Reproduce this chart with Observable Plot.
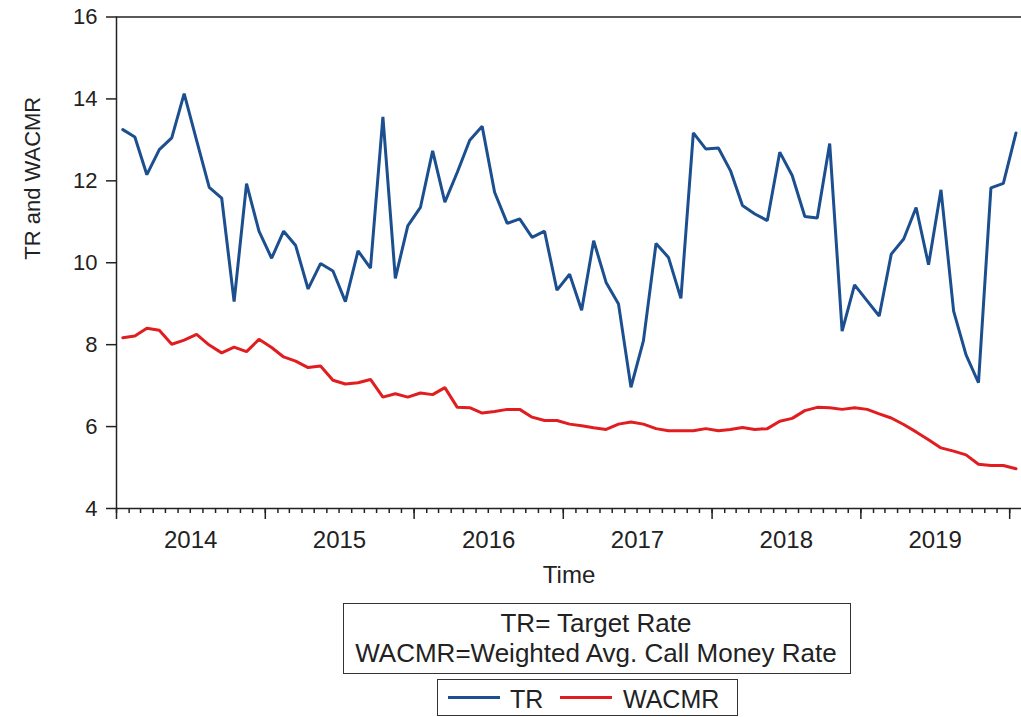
<!DOCTYPE html>
<html>
<head>
<meta charset="utf-8">
<script src="https://cdn.jsdelivr.net/npm/d3@7"></script>
<script src="https://cdn.jsdelivr.net/npm/@observablehq/plot@0.6"></script>
<style>
  body { margin: 0; background: #fff; font-family: "Liberation Sans", Arial, sans-serif; }
  #wrap { position: relative; width: 1021px; height: 717px; overflow: hidden; background: #fff; }
  #chart { position: absolute; left: 0; top: 0; }
  .box { position: absolute; border: 1.5px solid #333; box-sizing: border-box; color: #222; background: #fff; }
  #note { left: 343px; top: 603px; width: 508px; height: 71px; font-size: 26px; line-height: 30px; text-align: center; padding-top: 4px; }
  #note div { position: relative; left: -1px; }
  #legend { left: 437px; top: 679px; width: 301px; height: 37px; font-size: 25px; }
  #legend .sw { position: absolute; height: 3px; width: 52px; top: 15.5px; }
  #legend .lb { position: absolute; line-height: 25px; top: 6.5px; white-space: nowrap; }
</style>
</head>
<body>
<div id="wrap">
  <div id="chart"></div>
  <div class="box" id="note"></div>
  <div class="box" id="legend"></div>
</div>
<script>
// ---- Data (monthly, Jan 2014 – Jan 2020) ----
const startYear = 2014;
const startMonth = 0; // January
const tr = [
  13.25, 13.07, 12.15, 12.76, 13.05, 14.13, 12.99, 11.84, 11.58, 9.05,
  11.93, 10.77, 10.11, 10.77, 10.42, 9.36, 9.98, 9.80, 9.05, 10.29,
  9.87, 13.56, 9.62, 10.90, 11.35, 12.73, 11.48, 12.21, 12.99, 13.33,
  11.72, 10.96, 11.07, 10.62, 10.77, 9.33, 9.72, 8.84, 10.54, 9.52,
  8.99, 6.96, 8.09, 10.47, 10.13, 9.13, 13.17, 12.78, 12.80, 12.25,
  11.40, 11.19, 11.03, 12.70, 12.13, 11.13, 11.09, 12.91, 8.33, 9.46,
  9.07, 8.70, 10.21, 10.58, 11.35, 9.95, 11.78, 8.82, 7.75, 7.07,
  11.83, 11.94, 13.17
];
const wacmr = [
  8.17, 8.21, 8.40, 8.35, 8.01, 8.11, 8.25, 7.99, 7.80, 7.94,
  7.83, 8.13, 7.93, 7.70, 7.60, 7.44, 7.48, 7.13, 7.04, 7.07,
  7.15, 6.72, 6.80, 6.72, 6.82, 6.78, 6.95, 6.47, 6.46, 6.33,
  6.37, 6.42, 6.42, 6.23, 6.15, 6.15, 6.06, 6.02, 5.97, 5.93,
  6.06, 6.11, 6.06, 5.95, 5.90, 5.90, 5.90, 5.95, 5.90, 5.93,
  5.98, 5.93, 5.95, 6.13, 6.20, 6.39, 6.47, 6.46, 6.42, 6.46,
  6.42, 6.31, 6.21, 6.05, 5.87, 5.68, 5.48, 5.40, 5.31, 5.08,
  5.05, 5.05, 4.97
];
const seriesNames = ["TR", "WACMR"];
const seriesColors = ["#1c4f8f", "#e11d1f"];
const yTicks = [4, 6, 8, 10, 12, 14, 16];
const yearLabels = [2014, 2015, 2016, 2017, 2018, 2019];
const yearBoundaries = [2014, 2015, 2016, 2017, 2018, 2019, 2020];
const yLabel = "TR and WACMR";
const xLabel = "Time";
const noteLines = ["TR= Target Rate", "WACMR=Weighted Avg. Call Money Rate"];

// ---- Build table ----
function midMonth(i) {
  const a = Date.UTC(startYear, startMonth + i, 1);
  const b = Date.UTC(startYear, startMonth + i + 1, 1);
  return new Date((a + b) / 2);
}
const rows = [];
tr.forEach((v, i) => rows.push({date: midMonth(i), value: v, series: seriesNames[0]}));
wacmr.forEach((v, i) => rows.push({date: midMonth(i), value: v, series: seriesNames[1]}));

const xStart = new Date(Date.UTC(yearBoundaries[0], 0, 1));
const xEnd = new Date(Date.UTC(yearBoundaries[yearBoundaries.length - 1], 0, 30));
const monthTicks = d3.utcMonth.range(xStart, xEnd);
const yearTicks = yearBoundaries.map(y => new Date(Date.UTC(y, 0, 1)));
const yearMid = yearLabels.map(y => new Date(Date.UTC(y, 6, 2)));

const ink = "#222";
const chart = Plot.plot({
  width: 1021,
  height: 592,
  marginLeft: 116,
  marginRight: 0,
  marginTop: 16.5,
  marginBottom: 84,
  style: {fontFamily: "'Liberation Sans', Arial, sans-serif", color: ink, background: "white"},
  x: {type: "utc", domain: [xStart, xEnd]},
  y: {domain: [4, 16]},
  color: {domain: seriesNames, range: seriesColors},
  marks: [
    Plot.ruleY([yTicks[0], yTicks[yTicks.length - 1]], {stroke: ink, strokeWidth: 1.5}),
    Plot.ruleX([xStart], {stroke: ink, strokeWidth: 1.5}),
    Plot.axisY(yTicks, {tickSize: 10, tickPadding: 9, fontSize: 22, label: null, strokeWidth: 1.5}),
    Plot.axisX(monthTicks, {tickSize: 5, tickFormat: () => "", label: null, strokeWidth: 1.5}),
    Plot.axisX(yearTicks, {tickSize: 11, tickFormat: () => "", label: null, strokeWidth: 1.5}),
    Plot.axisX(yearMid, {tickSize: 0, tickPadding: 22, tickFormat: "%Y", fontSize: 24, label: null}),
    Plot.text([xLabel], {frameAnchor: "bottom", lineAnchor: "top", dy: 57, fontSize: 24, fill: ink}),
    Plot.text([yLabel], {frameAnchor: "left", rotate: -90, dx: -84, dy: -3, fontSize: 22, fill: ink}),
    Plot.line(rows, {x: "date", y: "value", z: "series", stroke: "series", strokeWidth: 3, strokeLinejoin: "miter"})
  ]
});
document.getElementById("chart").appendChild(chart);

// ---- Note box ----
const note = document.getElementById("note");
noteLines.forEach(t => { const d = document.createElement("div"); d.textContent = t; note.appendChild(d); });

// ---- Legend ----
const legend = document.getElementById("legend");
const layout = [
  {sw: 10, lb: 72},
  {sw: 122, lb: 185}
];
seriesNames.forEach((name, i) => {
  const s = document.createElement("div");
  s.className = "sw";
  s.style.left = layout[i].sw + "px";
  s.style.background = seriesColors[i];
  legend.appendChild(s);
  const l = document.createElement("div");
  l.className = "lb";
  l.style.left = layout[i].lb + "px";
  l.textContent = name;
  legend.appendChild(l);
});
</script>
</body>
</html>
